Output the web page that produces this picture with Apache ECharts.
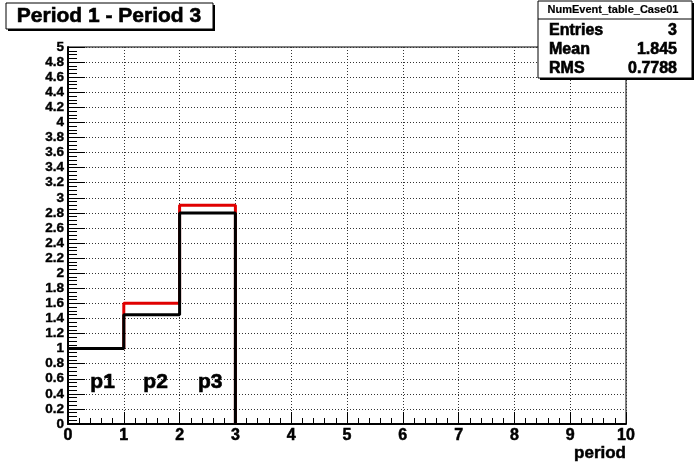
<!DOCTYPE html>
<html>
<head>
<meta charset="utf-8">
<script src="https://cdn.jsdelivr.net/npm/echarts@6/dist/echarts.min.js"></script>
<style>html,body{margin:0;padding:0;background:#fff;}#c{width:696px;height:472px;}</style>
</head>
<body>
<div id="c"></div>
<script>
const binEdges = [0, 1, 2, 3];
const blackValues = [1.0, 1.45, 2.8];
const redValues = [1.0, 1.6, 2.9];
const periodLabels = ['p1', 'p2', 'p3'];
const periodLabelX = [0.62, 1.57, 2.55];
const periodLabelY = [0.55, 0.55, 0.55];
const titleText = 'Period 1 - Period 3';
const statsName = 'NumEvent_table_Case01';
const statsRows = [['Entries', '3'], ['Mean', '1.845'], ['RMS', '0.7788']];
const xTitle = 'period';

function histPath(edges, vals) {
  const pts = [];
  for (let i = 0; i < vals.length; i++) {
    pts.push([edges[i], vals[i]]);
    pts.push([edges[i + 1], vals[i]]);
  }
  pts.push([edges[edges.length - 1], 0]);
  return pts;
}

const FONT = '"Liberation Sans", Arial, sans-serif';
const chart = echarts.init(document.getElementById('c'));

function txt(x, y, text, size, align, sw) {
  return { type: 'text', x: x, y: y, z: 12,
    style: { text: text, font: 'bold ' + size + 'px ' + FONT, fill: '#000', stroke: '#000', lineWidth: sw, textAlign: align, textVerticalAlign: 'middle' } };
}

const graphics = [
  { type: 'rect', shape: { x: 8, y: 5, width: 207, height: 26 }, style: { fill: '#000' }, z: 10 },
  { type: 'rect', shape: { x: 6, y: 3, width: 207, height: 26 }, style: { fill: '#fff', stroke: '#000', lineWidth: 1 }, z: 11 },
  txt(109, 16, titleText, 21, 'center', 0.6),
  { type: 'rect', shape: { x: 540, y: 3, width: 154, height: 77 }, style: { fill: '#000' }, z: 10 },
  { type: 'rect', shape: { x: 538, y: 1, width: 154, height: 77 }, style: { fill: '#fff', stroke: '#000', lineWidth: 1 }, z: 11 },
  txt(613, 10, statsName, 11, 'center', 0.2),
  { type: 'line', shape: { x1: 538, y1: 19, x2: 692, y2: 19 }, style: { stroke: '#000', lineWidth: 1 }, z: 12 },
  txt(626, 453, xTitle, 17, 'right', 0.5)
];
statsRows.forEach((r, i) => {
  const y = 31 + i * 19;
  graphics.push(txt(549, y, r[0], 16, 'left', 0.6));
  graphics.push(txt(677, y, r[1], 16, 'right', 0.6));
});

chart.setOption({
  animation: false,
  backgroundColor: '#fff',
  grid: { left: 68, right: 70, top: 47, bottom: 48, show: true, borderColor: '#000', borderWidth: 1, backgroundColor: 'transparent' },
  xAxis: {
    type: 'value', min: 0, max: 10, interval: 1,
    axisLine: { show: true, lineStyle: { color: '#000', width: 2 } },
    axisTick: { show: true, inside: true, length: 12, lineStyle: { color: '#000', width: 1 } },
    minorTick: { show: true, splitNumber: 5, length: 6, lineStyle: { color: '#000', width: 1 } },
    axisLabel: { color: '#000', fontFamily: FONT, fontWeight: 'bold', fontSize: 16, margin: 4, textBorderColor: '#000', textBorderWidth: 0.5 },
    splitLine: { show: true, lineStyle: { color: '#333', type: [1, 2], width: 1 } }
  },
  yAxis: {
    type: 'value', min: 0, max: 5, interval: 0.2,
    axisLine: { show: true, lineStyle: { color: '#000', width: 2 } },
    axisTick: { show: true, inside: true, length: 17, lineStyle: { color: '#000', width: 1 } },
    minorTick: { show: true, splitNumber: 4, length: 9, lineStyle: { color: '#000', width: 1 } },
    axisLabel: { color: '#000', fontFamily: FONT, fontWeight: 'bold', fontSize: 13.5, margin: 4, textBorderColor: '#000', textBorderWidth: 0.4 },
    splitLine: { show: true, lineStyle: { color: '#333', type: [1, 2], width: 1 } }
  },
  series: [
    { type: 'line', data: histPath(binEdges, redValues), symbol: 'none', lineStyle: { color: '#e00000', width: 3 }, z: 3 },
    { type: 'line', data: histPath(binEdges, blackValues), symbol: 'none', lineStyle: { color: '#000', width: 3 }, z: 4 },
    {
      type: 'scatter', symbolSize: 1, itemStyle: { color: 'rgba(0,0,0,0)' }, z: 5, silent: true,
      data: periodLabels.map((t, i) => ({ value: [periodLabelX[i], periodLabelY[i]], name: t })),
      label: { show: true, position: 'inside', formatter: p => p.name, color: '#000', fontFamily: FONT, fontWeight: 'bold', fontSize: 21, textBorderColor: '#000', textBorderWidth: 0.6, opacity: 1 }
    }
  ],
  graphic: graphics
});
</script>
</body>
</html>
